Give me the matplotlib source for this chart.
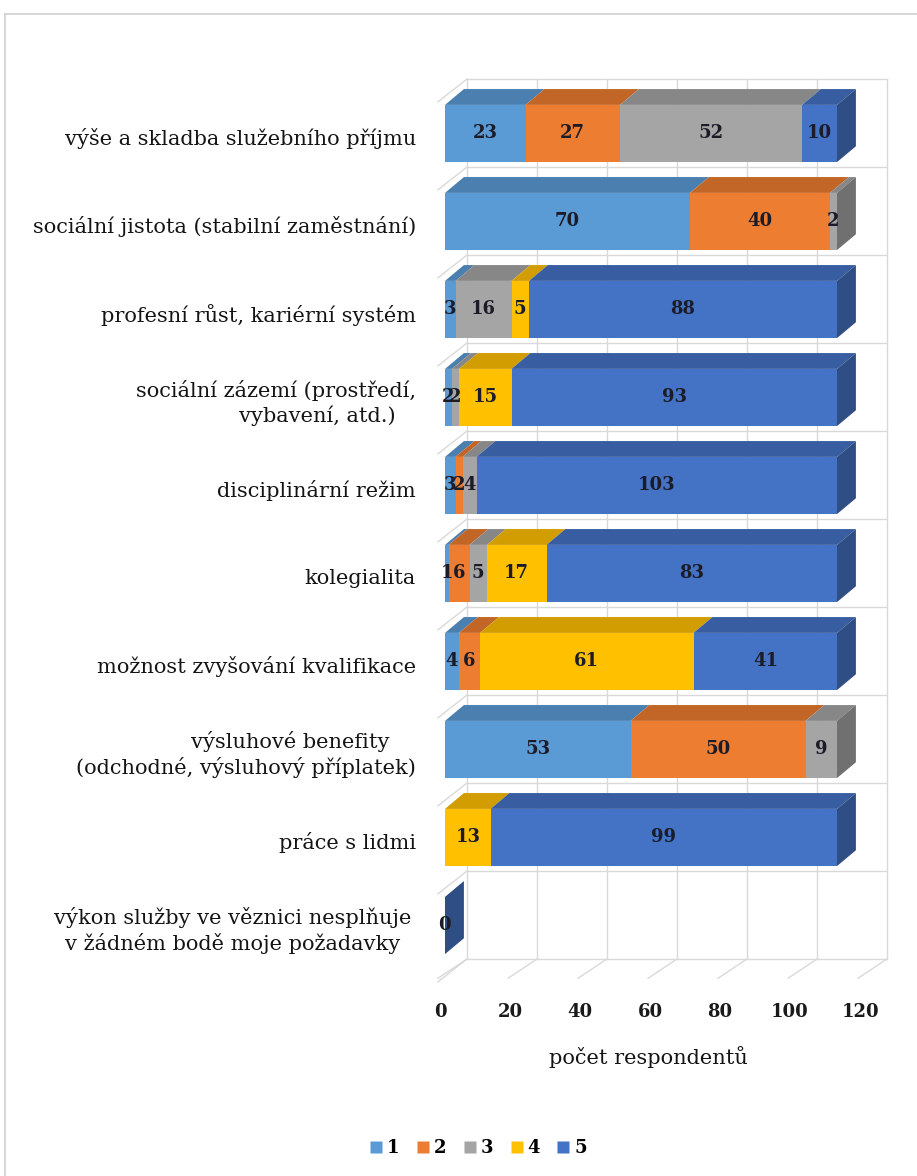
import numpy as np
import matplotlib.pyplot as plt
from matplotlib.patches import Polygon, Rectangle
from matplotlib.lines import Line2D
from matplotlib.colors import to_rgb

# Hodnocení faktorů (počet respondentů podle stupně 1-5)
kategorie = [
    'výše a skladba služebního příjmu',
    'sociální jistota (stabilní zaměstnání)',
    'profesní růst, kariérní systém',
    'sociální zázemí (prostředí,\nvybavení, atd.)   ',
    'disciplinární režim',
    'kolegialita',
    'možnost zvyšování kvalifikace',
    'výsluhové benefity    \n(odchodné, výsluhový příplatek)',
    'práce s lidmi',
    'výkon služby ve věznici nesplňuje\nv žádném bodě moje požadavky',
]
zarovnani = ['right', 'right', 'right', 'right', 'right', 'right', 'right', 'right', 'right', 'center']

stupne = ['1', '2', '3', '4', '5']
s1 = [23, 70, 3, 2, 3, 1, 4, 53, 0, 0]
s2 = [27, 40, 0, 0, 2, 6, 6, 50, 0, 0]
s3 = [52, 2, 16, 2, 4, 5, 0, 9, 0, 0]
s4 = [0, 0, 5, 15, 0, 17, 61, 0, 13, 0]
s5 = [10, 0, 88, 93, 103, 83, 41, 0, 99, 0]

barvy = ['#5B9BD5', '#ED7D31', '#A5A5A5', '#FFC000', '#4472C4']
xticks = [0, 20, 40, 60, 80, 100, 120]

data = np.array([s1, s2, s3, s4, s5])
n = len(kategorie)

def shade(c, f):
    r, g, b = to_rgb(c)
    return (r * f, g * f, b * f)

fig = plt.figure(figsize=(9.17, 11.76), dpi=100)
W, H = 917, 1176
# osa: x 0..120 -> 445..865 px, radky -0.5..9.5 -> 89.5..969.5 px
ax = fig.add_axes([445 / W, 1 - 969.5 / H, 420 / W, 880 / H])
ax.set_xlim(0, 120)
ax.set_ylim(n - 0.5, -0.5)
ax.axis('off')

grid = '#D9D9D9'
# hloubka sceny (zadni stena / predni hrana podlahy)
wx, wy = 6.3, -0.12
fx, fy = -2.0, 0.1
# zadni stena - svisle cary
for v in xticks:
    ax.plot([v + wx, v + wx], [-0.5 + wy, n - 0.5 + wy], color=grid, lw=1, clip_on=False, zorder=0)
    # podlaha
    ax.plot([v + wx, v + fx], [n - 0.5 + wy, n - 0.5 + fy], color=grid, lw=1, clip_on=False, zorder=0)
# zadni stena - vodorovne cary a leva stena
for i in range(n + 1):
    ax.plot([wx, 120 + wx], [i - 0.5 + wy, i - 0.5 + wy], color=grid, lw=1, clip_on=False, zorder=0)
    ax.plot([wx, fx], [i - 0.5 + wy, i - 0.5 + 0.14], color=grid, lw=1, clip_on=False, zorder=0)

# 3D sloupce
h = 0.65
dx, dy = 5.4, -0.18
for i in range(n):
    top = i - h / 2
    bot = i + h / 2
    left = 0
    last = None
    for k in range(5):
        v = data[k, i]
        if v == 0:
            continue
        r = left + v
        ax.add_patch(Rectangle((left, top), v, h, facecolor=barvy[k], edgecolor='none', zorder=3, clip_on=False))
        ax.add_patch(Polygon([(left, top), (r, top), (r + dx, top + dy), (left + dx, top + dy)],
                             facecolor=shade(barvy[k], 0.82), edgecolor='none', zorder=2, clip_on=False))
        ax.text((left + r) / 2, i, str(v), ha='center', va='center', fontsize=13, fontweight='bold',
                family='DejaVu Serif', color='#1c1c28', zorder=5)
        last = k
        left = r
    if last is None:
        last = 4
        ax.text(left - 0.3, i, '0', ha='center', va='center', fontsize=13, fontweight='bold',
                family='DejaVu Serif', color='#1c1c28', zorder=5)
    ax.add_patch(Polygon([(left, top), (left + dx, top + dy), (left + dx, bot + dy), (left, bot)],
                         facecolor=shade(barvy[last], 0.68), edgecolor='none', zorder=2, clip_on=False))

# popisky kategorii
for i, (lab, al) in enumerate(zip(kategorie, zarovnani)):
    xr = -8.3 if al == 'right' else -9.5
    ax.text(xr, i + 0.06, lab, ha='right', va='center', multialignment=al, fontsize=15,
            family='DejaVu Serif', color='#141414', linespacing=1.3)

# popisky osy x
for v in xticks:
    ax.text(v - 1.4, 9.98, str(v), ha='center', va='center', fontsize=13, fontweight='bold',
            family='DejaVu Serif', color='#1a1a1a', clip_on=False)
ax.text(58, 10.5, 'počet respondentů', ha='center', va='center', fontsize=15,
        family='DejaVu Serif', color='#141414')

# legenda
handles = [Line2D([], [], marker='s', linestyle='', markersize=9, markerfacecolor=c, markeredgecolor='none')
           for c in barvy]
fig.legend(handles, stupne, loc='center', bbox_to_anchor=(478 / W, 1 - 1148 / H), ncol=5, frameon=False,
           handlelength=0.8, handletextpad=0.2, columnspacing=0.9,
           prop={'family': 'DejaVu Serif', 'weight': 'bold', 'size': 13})

# ramecek grafu
fig.add_artist(Line2D([5 / W, 1], [1 - 14 / H, 1 - 14 / H], color='#D0D0D0', lw=1.2))
fig.add_artist(Line2D([5 / W, 5 / W], [0, 1 - 14 / H], color='#D0D0D0', lw=1.2))

fig.savefig('out.png', dpi=100, facecolor='white')
